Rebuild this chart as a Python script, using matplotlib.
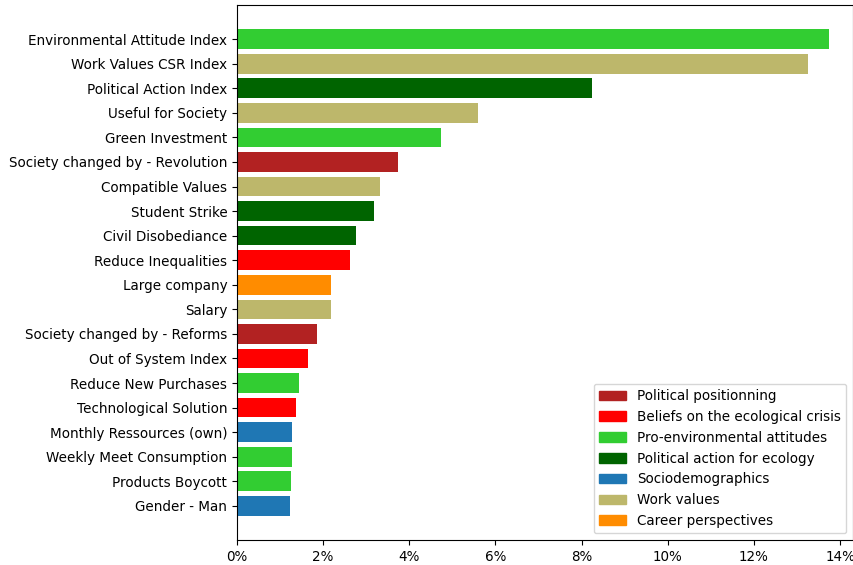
import matplotlib
matplotlib.use("Agg")
import matplotlib.pyplot as plt
from matplotlib.patches import Patch
from matplotlib.ticker import FuncFormatter

features = ["Environmental Attitude Index", "Work Values CSR Index", "Political Action Index",
            "Useful for Society", "Green Investment", "Society changed by - Revolution",
            "Compatible Values", "Student Strike", "Civil Disobediance", "Reduce Inequalities",
            "Large company", "Salary", "Society changed by - Reforms", "Out of System Index",
            "Reduce New Purchases", "Technological Solution", "Monthly Ressources (own)",
            "Weekly Meet Consumption", "Products Boycott", "Gender - Man"]
importance = [13.74, 13.26, 8.23, 5.60, 4.74, 3.73, 3.33, 3.19, 2.77, 2.62,
              2.19, 2.19, 1.86, 1.65, 1.44, 1.37, 1.28, 1.28, 1.26, 1.23]
groups = ["Pro-environmental attitudes", "Work values", "Political action for ecology",
          "Work values", "Pro-environmental attitudes", "Political positionning",
          "Work values", "Political action for ecology", "Political action for ecology",
          "Beliefs on the ecological crisis", "Career perspectives", "Work values",
          "Political positionning", "Beliefs on the ecological crisis",
          "Pro-environmental attitudes", "Beliefs on the ecological crisis",
          "Sociodemographics", "Pro-environmental attitudes", "Pro-environmental attitudes",
          "Sociodemographics"]
legend_groups = ["Political positionning", "Beliefs on the ecological crisis",
                 "Pro-environmental attitudes", "Political action for ecology",
                 "Sociodemographics", "Work values", "Career perspectives"]
group_colors = ["firebrick", "red", "limegreen", "darkgreen", "#1f77b4", "darkkhaki", "darkorange"]
cmap = dict(zip(legend_groups, group_colors))

plt.rcParams['font.size'] = 9.75
fig = plt.figure(figsize=(8.54, 5.65), dpi=100)
ax = fig.add_axes([237/854, 1-540/565, (853-237)/854, (540-5)/565])
ypos = list(range(len(features)))[::-1]
ax.barh(ypos, importance, color=[cmap[g] for g in groups], height=0.8)
ax.set_yticks(ypos)
ax.set_yticklabels(features)
ax.set_xlim(0, 14.30)
ax.set_xticks([0, 2, 4, 6, 8, 10, 12, 14])
ax.xaxis.set_major_formatter(FuncFormatter(lambda v, p: f"{v:.0f}%"))
handles = [Patch(color=c, label=g) for g, c in zip(legend_groups, group_colors)]
ax.legend(handles=handles, loc="lower right")
fig.savefig("out.png", dpi=100)
